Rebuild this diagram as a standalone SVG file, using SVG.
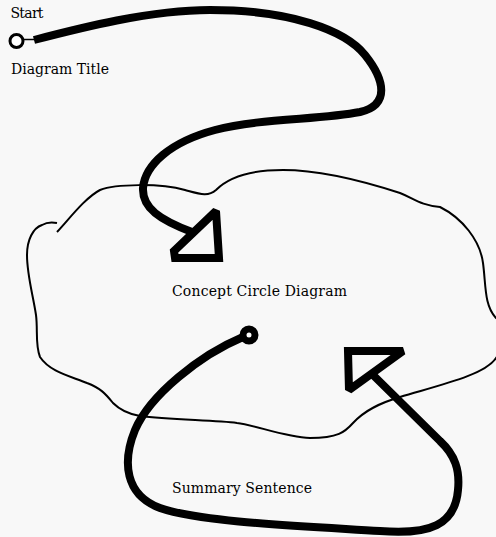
<svg xmlns="http://www.w3.org/2000/svg" width="496" height="537" viewBox="0 0 496 537">
<style>
  .lbl { font-family: "DejaVu Serif", "Liberation Serif", serif; font-size: 14px; fill: #000; }
  .thick { fill: none; stroke: #000; stroke-width: 8; stroke-linecap: butt; stroke-linejoin: round; }
  .head { fill: none; stroke: #000; stroke-width: 8; stroke-linejoin: miter; stroke-miterlimit: 2; }
  .blob { fill: none; stroke: #000; stroke-width: 2; stroke-linecap: butt; }
</style>
<rect width="496" height="537" fill="#f8f8f8"/>
<g id="concept-circle">
  <path class="blob" d="M57,232 C70,218 85,198 100,190 C115,184 160,183 185,190 C200,194 208,197 216,190 C228,178 250,170 283,170 C320,170 360,180 400,193 C415,199 420,205 440,207 C462,218 480,240 483,263 C486,285 484,305 496,318 C505,325 505,350 496,358 C485,375 440,385 400,397 C380,403 365,410 353,423 C345,432 338,438 310,438 C285,437 255,425 237,423 C215,420 170,420 140,416 C128,414 120,410 113,403 C105,393 100,388 87,383 C70,376 50,372 40,357 C35,345 38,330 36,315 C33,295 27,275 27,255 C27,240 33,228 42,225 C47,222 52,222 57,223"/>
  <text class="lbl" x="172" y="296" textLength="175">Concept Circle Diagram</text>
</g>
<g id="start">
  <circle cx="16.5" cy="41" r="6.5" fill="#fff" stroke="#000" stroke-width="3"/>
  <line x1="23" y1="39.5" x2="35" y2="39.5" stroke="#000" stroke-width="1.5"/>
  <text class="lbl" x="10.5" y="18" textLength="33">Start</text>
</g>
<g id="diagram-title">
  <text class="lbl" x="11" y="74" textLength="98">Diagram Title</text>
</g>
<g id="summary-sentence">
  <text class="lbl" x="172" y="493" textLength="140">Summary Sentence</text>
</g>
<g id="connectors">
  <path class="thick" d="M34,40 C80,28 150,10 210,10 C290,10 345,30 365,55 C385,80 390,105 360,112 C320,120 260,118 215,130 C170,142 145,165 143,188 C142,208 160,220 192,232"/>
  <path class="head" d="M216,211 L219,258 L175,258 L174,251 Z"/>
  <path class="thick" d="M243,337 C200,355 150,395 135,430 C122,462 125,495 160,508 C200,522 300,526 380,531 C430,535 455,525 458,490 C460,470 455,455 440,441 L372,374"/>
  <circle cx="249" cy="335" r="6" fill="#fff" stroke="#000" stroke-width="7"/>
  <path class="head" d="M348,351 L403,351 L349,390 Z"/>
</g>
</svg>
